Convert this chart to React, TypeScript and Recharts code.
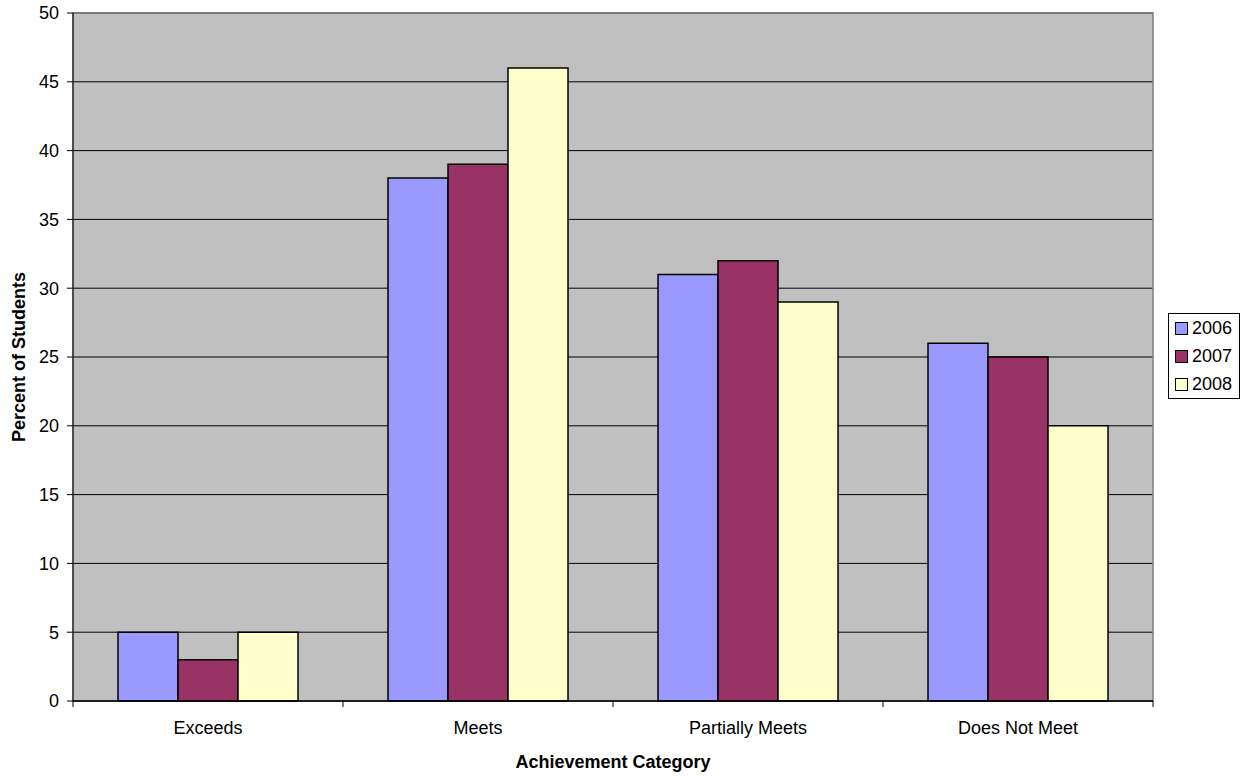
import React from "react";
import {
  BarChart,
  Bar,
  CartesianGrid,
  XAxis,
  YAxis,
  Legend,
  Label,
  ReferenceArea,
} from "recharts";

const categories = ["Exceeds", "Meets", "Partially Meets", "Does Not Meet"];
const years = ["2006", "2007", "2008"];
const values2006 = [5, 38, 31, 26];
const values2007 = [3, 39, 32, 25];
const values2008 = [5, 46, 29, 20];
const yTicks = [0, 5, 10, 15, 20, 25, 30, 35, 40, 45, 50];

const colors: Record<string, string> = {
  "2006": "#9999FF",
  "2007": "#993366",
  "2008": "#FFFFCC",
};

const data = categories.map((name, i) => ({
  name,
  "2006": values2006[i],
  "2007": values2007[i],
  "2008": values2008[i],
}));

const font = "Arial, 'Liberation Sans', sans-serif";
const LABEL_GAP = 20;

// category label plus the little tick marks that sit on the category edges
function CategoryTick(props: any) {
  const { x, y, payload, index, visibleTicksCount } = props;
  const half = payload?.offset ?? 135;
  const axisY = y - LABEL_GAP;
  const last = index === (visibleTicksCount ?? categories.length) - 1;
  return (
    <g>
      <line x1={x - half} x2={x - half} y1={axisY} y2={axisY + 6} stroke="#000" />
      {last && (
        <line x1={x + half} x2={x + half} y1={axisY} y2={axisY + 6} stroke="#000" />
      )}
      <text
        x={x}
        y={y}
        dy="0.71em"
        textAnchor="middle"
        fill="#000"
        fontSize={18}
        fontFamily={font}
      >
        {payload.value}
      </text>
    </g>
  );
}

function LegendBox() {
  return (
    <div
      style={{
        border: "1px solid #000",
        background: "#fff",
        padding: "0 6px",
        fontFamily: font,
        fontSize: 18,
        color: "#000",
        boxSizing: "border-box",
        width: 72,
        textAlign: "left",
      }}
    >
      {years.map((y) => (
        <div
          key={y}
          style={{ display: "flex", alignItems: "center", height: 28 }}
        >
          <span
            style={{
              display: "inline-block",
              width: 11,
              height: 11,
              border: "1px solid #000",
              background: colors[y],
              marginRight: 4,
            }}
          />
          <span>{y}</span>
        </div>
      ))}
    </div>
  );
}

export default function App() {
  return (
    <div style={{ position: "absolute", left: 0, top: 0, fontFamily: font }}>
      <BarChart
        width={1251}
        height={778}
        data={data}
        margin={{ top: 13, right: 98, bottom: 0, left: 0 }}
        barCategoryGap="16.67%"
        barGap={0}
      >
        <CartesianGrid
          vertical={false}
          stroke="#000"
          fill="#C0C0C0"
          fillOpacity={1}
        />
        <XAxis
          dataKey="name"
          height={77}
          tickSize={0}
          tickMargin={LABEL_GAP}
          interval={0}
          axisLine={{ stroke: "#000", strokeWidth: 1.5 }}
          tick={<CategoryTick />}
        >
          <Label
            value="Achievement Category"
            position="center"
            dy={22}
            fill="#000"
            fontSize={18}
            fontWeight="bold"
            fontFamily={font}
          />
        </XAxis>
        <YAxis
          width={73}
          domain={[0, 50]}
          ticks={yTicks}
          interval={0}
          tickSize={6}
          tickMargin={8}
          axisLine={{ stroke: "#000" }}
          tickLine={{ stroke: "#000" }}
          tick={{ fill: "#000", fontSize: 18, fontFamily: font }}
        >
          <Label
            value="Percent of Students"
            angle={-90}
            position="center"
            dx={-18}
            fill="#000"
            fontSize={18}
            fontWeight="bold"
            fontFamily={font}
          />
        </YAxis>
        <ReferenceArea
          y1={0}
          y2={50}
          fill="none"
          stroke="#808080"
          strokeWidth={1.5}
          ifOverflow="visible"
        />
        <Legend
          layout="horizontal"
          align="center"
          verticalAlign="middle"
          content={() => <LegendBox />}
          wrapperStyle={{ left: 1168, top: 313, width: 72 }}
        />
        {years.map((y) => (
          <Bar
            key={y}
            dataKey={y}
            name={y}
            fill={colors[y]}
            stroke="#000"
            strokeWidth={1.5}
            isAnimationActive={false}
          />
        ))}
      </BarChart>
    </div>
  );
}
